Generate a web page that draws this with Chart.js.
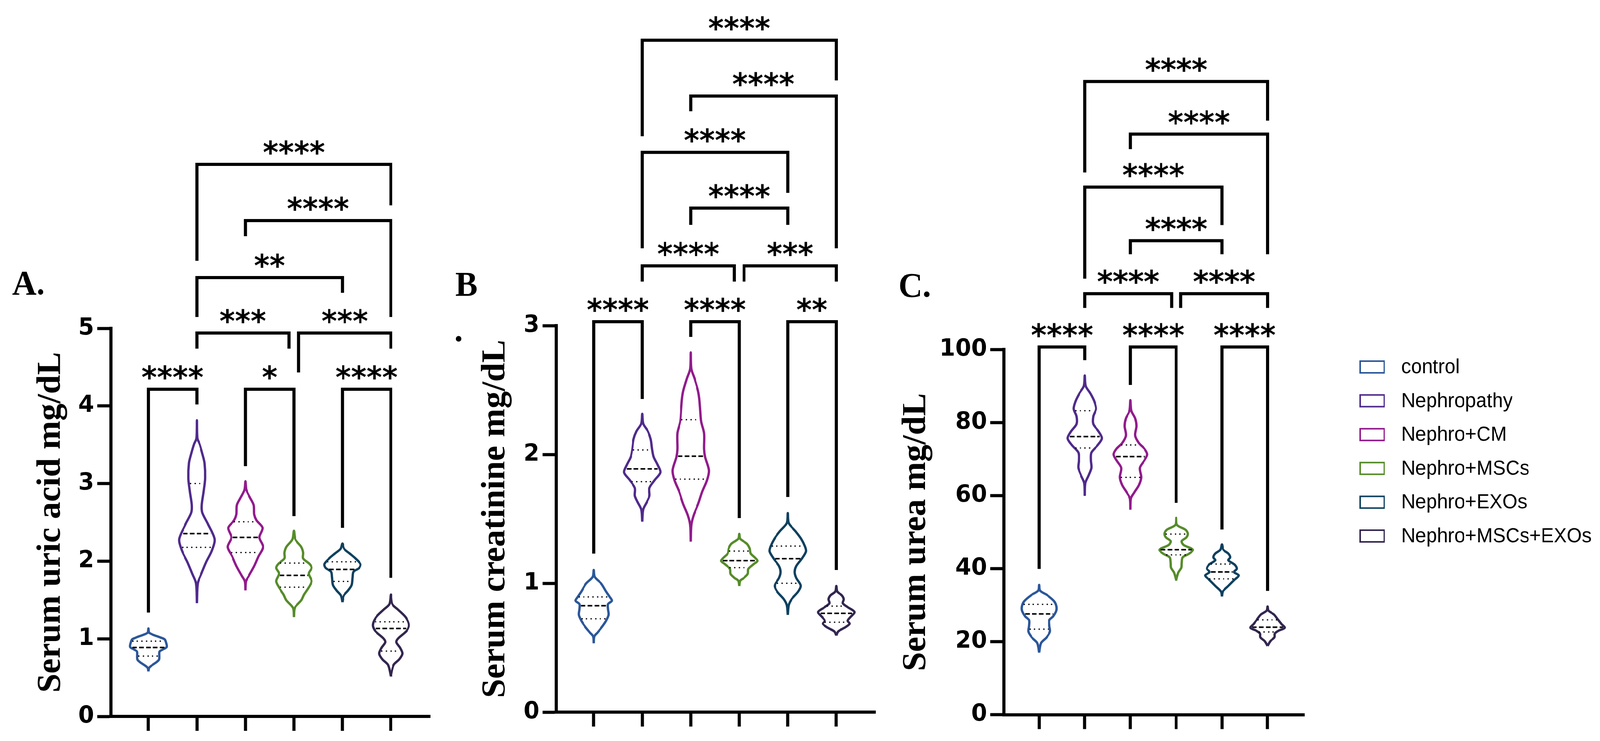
<!DOCTYPE html>
<html><head><meta charset="utf-8">
<script src="https://cdn.jsdelivr.net/npm/chart.js@4.4.0/dist/chart.umd.min.js"></script>
<style>
html,body{margin:0;padding:0;background:#fff;overflow:hidden;width:100%;height:100%;}
#stage{position:absolute;left:0;top:0;width:4196px;height:1898px;transform-origin:0 0;background:#fff;}
#stage canvas{position:absolute;top:0;}
</style></head><body>
<div id="stage">
<canvas id="cA" width="1150" height="1898" style="left:0px;width:1150px;height:1898px"></canvas>
<canvas id="cB" width="1160" height="1898" style="left:1150px;width:1160px;height:1898px"></canvas>
<canvas id="cC" width="1140" height="1898" style="left:2310px;width:1140px;height:1898px"></canvas>
<canvas id="cL" width="746" height="1898" style="left:3450px;width:746px;height:1898px"></canvas>
</div>
<script>
// fit the 4196x1898 figure into whatever viewport the page is opened in
(function () {
  const st = document.getElementById('stage');
  const sx = (window.innerWidth || 4196) / 4196, sy = (window.innerHeight || 1898) / 1898;
  st.style.transform = 'scale(' + sx + ',' + sy + ')';
})();

// ---------- categories & colours ----------
const groups = ['control', 'Nephropathy', 'Nephro+CM', 'Nephro+MSCs', 'Nephro+EXOs', 'Nephro+MSCs+EXOs'];
const groupColors = ['#2C579A', '#4F2B8C', '#921B8C', '#568C2A', '#0F415F', '#33264F'];

// ---------- Panel A: serum uric acid (violin outlines: [value, half-width]) ----------
const uricTicks = [0, 1, 2, 3, 4, 5];
const uricViolins = [
  [[0.581,0],[0.625,0.015],[0.649,0.054],[0.699,0.169],[0.735,0.223],[0.833,0.23],[0.858,0.284],[0.895,0.376],[0.956,0.361],[0.993,0.334],[1.018,0.246],[1.054,0.092],[1.079,0.015],[1.133,0]],
  [[1.459,0],[1.717,0.019],[1.840,0.096],[1.987,0.192],[2.134,0.307],[2.281,0.365],[2.478,0.23],[2.625,0.115],[2.723,0.104],[2.895,0.142],[3.066,0.173],[3.263,0.161],[3.385,0.115],[3.508,0.058],[3.582,0.01],[3.815,0]],
  [[1.624,0],[1.741,0.012],[1.815,0.077],[1.938,0.184],[2.06,0.269],[2.183,0.365],[2.306,0.288],[2.429,0.353],[2.527,0.23],[2.601,0.184],[2.723,0.173],[2.821,0.096],[2.92,0.019],[3.03,0]],
  [[1.28,0],[1.398,0.019],[1.496,0.154],[1.57,0.211],[1.643,0.288],[1.741,0.365],[1.840,0.307],[1.913,0.365],[1.962,0.326],[2.036,0.192],[2.11,0.192],[2.183,0.154],[2.281,0.031],[2.392,0]],
  [[1.472,0],[1.557,0.031],[1.619,0.115],[1.693,0.192],[1.791,0.211],[1.864,0.23],[1.913,0.346],[1.962,0.372],[2.036,0.269],[2.098,0.154],[2.159,0.038],[2.227,0]],
  [[0.515,0],[0.662,0.058],[0.735,0.173],[0.809,0.238],[0.883,0.192],[0.956,0.115],[1.006,0.154],[1.104,0.326],[1.177,0.372],[1.275,0.307],[1.373,0.154],[1.447,0.031],[1.57,0]]
];
const uricQuartiles = [[0.777,0.888,0.969],[2.178,2.355,3.0],[2.112,2.306,2.507],[1.665,1.817,1.975],[1.739,1.894,1.992],[0.841,1.133,1.219]];
// [from group, to group, bracket level, left drop end, right drop end, label]
const uricBrackets = [
  [1,5,7.113,5.87,6.584,'****'],[2,5,6.388,6.187,5.146,'****'],[1,4,5.654,5.146,5.458,'**'],
  [1,2.9,4.94,4.739,4.739,'***'],[3.1,5,4.94,4.431,4.739,'***'],
  [0,1,4.215,1.338,4.019,'****'],[2,3,4.215,3.224,2.58,'*'],[4,5,4.215,2.43,1.786,'****']
];

// ---------- Panel B: serum creatinine ----------
const creatTicks = [0, 1, 2, 3];
const creatViolins = [
  [[0.535,0],[0.588,0.012],[0.618,0.079],[0.664,0.177],[0.709,0.256],[0.755,0.307],[0.8,0.295],[0.838,0.295],[0.865,0.374],[0.891,0.335],[0.936,0.256],[0.997,0.157],[1.05,0.02],[1.103,0]],
  [[1.479,0],[1.573,0.02],[1.633,0.098],[1.679,0.15],[1.739,0.15],[1.8,0.256],[1.861,0.374],[1.921,0.315],[1.982,0.236],[2.042,0.205],[2.118,0.177],[2.179,0.118],[2.239,0.02],[2.315,0]],
  [[1.323,0],[1.452,0.012],[1.527,0.059],[1.618,0.157],[1.709,0.236],[1.8,0.335],[1.876,0.374],[1.982,0.295],[2.042,0.276],[2.164,0.276],[2.255,0.217],[2.345,0.197],[2.436,0.177],[2.497,0.15],[2.588,0.079],[2.664,0.012],[2.792,0]],
  [[0.979,0],[1.02,0.02],[1.042,0.098],[1.073,0.177],[1.111,0.189],[1.148,0.295],[1.174,0.374],[1.202,0.315],[1.232,0.236],[1.27,0.217],[1.308,0.157],[1.345,0.02],[1.383,0]],
  [[0.755,0],[0.83,0.02],[0.876,0.079],[0.936,0.217],[0.982,0.268],[1.042,0.177],[1.088,0.146],[1.133,0.177],[1.194,0.295],[1.247,0.374],[1.285,0.354],[1.345,0.276],[1.406,0.157],[1.467,0.02],[1.545,0]],
  [[0.595,0],[0.626,0.039],[0.656,0.177],[0.686,0.276],[0.709,0.236],[0.739,0.295],[0.777,0.374],[0.815,0.236],[0.845,0.138],[0.876,0.157],[0.906,0.118],[0.936,0.02],[0.979,0]]
];
const creatQuartiles = [[0.724,0.826,0.894],[1.789,1.888,2.035],[1.808,1.986,2.27],[1.121,1.176,1.25],[1.0,1.191,1.289],[0.698,0.767,0.823]];
const creatBrackets = [
  [1,5,5.215,4.47,4.903,'****'],[2,5,4.782,4.664,3.6,'****'],[1,4,4.345,3.6,4.03,'****'],
  [2,4,3.912,3.782,3.782,'****'],[1,2.9,3.464,3.342,3.342,'****'],[3.1,5,3.464,3.342,3.342,'***'],
  [0,1,3.03,1.23,2.43,'****'],[2,3,3.03,2.912,1.506,'****'],[4,5,3.03,1.67,1.103,'**']
];

// ---------- Panel C: serum urea ----------
const ureaTicks = [0, 20, 40, 60, 80, 100];
const ureaViolins = [
  [[17.0,0],[19.61,0.041],[21.18,0.163],[22.74,0.237],[24.3,0.224],[25.88,0.224],[26.91,0.306],[28.48,0.375],[29.78,0.375],[31.09,0.326],[32.66,0.184],[33.96,0.02],[35.52,0]],
  [[59.93,0],[63.43,0.012],[65.51,0.082],[67.6,0.143],[69.68,0.131],[71.77,0.143],[73.86,0.286],[75.68,0.375],[77.51,0.306],[79.6,0.184],[81.68,0.184],[83.77,0.245],[85.85,0.204],[87.95,0.122],[90.03,0.02],[92.9,0]],
  [[56.13,0],[59.26,0.012],[60.82,0.082],[62.91,0.184],[64.99,0.233],[67.6,0.204],[69.68,0.306],[71.26,0.367],[72.82,0.306],[74.38,0.184],[76.46,0.102],[79.07,0.131],[81.16,0.102],[83.24,0.02],[86.12,0]],
  [[36.72,0],[38.91,0.049],[40.22,0.114],[41.52,0.122],[43.08,0.143],[44.13,0.286],[45.18,0.367],[46.47,0.163],[47.52,0.122],[48.57,0.224],[49.6,0.253],[50.65,0.204],[51.96,0.02],[53.93,0]],
  [[32.39,0],[33.69,0.02],[35.26,0.143],[36.83,0.265],[38.13,0.367],[39.07,0.265],[39.96,0.326],[41.0,0.286],[42.3,0.143],[43.08,0.184],[44.13,0.143],[45.18,0.033],[46.63,0]],
  [[18.83,0],[20.13,0.061],[21.18,0.155],[22.22,0.163],[23.0,0.245],[23.79,0.375],[24.83,0.306],[26.13,0.224],[27.44,0.143],[28.48,0.02],[29.63,0]]
];
const ureaQuartiles = [[23.42,27.6,30.2],[73.02,76.15,83.24],[64.99,70.68,73.86],[43.77,45.18,49.45],[37.19,39.07,41.26],[22.64,23.94,25.97]];
const ureaBrackets = [
  [1,5,173.4,148.5,162.7,'****'],[2,5,159.0,154.9,126.1,'****'],[1,4,144.5,119.4,134.1,'****'],
  [2,4,129.8,126.1,126.1,'****'],[1,2.9,115.3,111.4,111.4,'****'],[3.1,5,115.3,111.4,111.4,'****'],
  [0,1,100.7,39.9,97.1,'****'],[2,3,100.7,90.3,58.0,'****'],[4,5,100.7,50.7,33.9,'****']
];

Chart.defaults.color = '#000';

function widthAt(profile, v) {
  for (let k = 0; k < profile.length - 1; k++) {
    const [v0, w0] = profile[k], [v1, w1] = profile[k + 1];
    if (v >= v0 && v <= v1) return w0 + (w1 - w0) * (v - v0) / (v1 - v0);
  }
  return 0;
}

function buildDatasets(violins, quartiles) {
  const ds = [];
  const dotted = [], dashed = [];
  violins.forEach((prof, g) => {
    const right = prof.map(([v, w]) => ({x: g + w, y: v}));
    const left = prof.slice(0, -1).reverse().map(([v, w]) => ({x: g - w, y: v}));
    ds.push({label: groups[g], data: right.concat(left), showLine: true, borderColor: groupColors[g],
      borderWidth: 6, pointRadius: 0, tension: 0.3, fill: false, borderJoinStyle: 'round', order: 2});
    const [q1, med, q3] = quartiles[g];
    [q1, q3].forEach(q => {
      const w = Math.max(widthAt(prof, q) - 0.03, 0);
      dotted.push({x: g - w, y: q}, {x: g + w, y: q}, {x: g, y: null});
    });
    const wm = Math.max(widthAt(prof, med) - 0.03, 0);
    dashed.push({x: g - wm, y: med}, {x: g + wm, y: med}, {x: g, y: null});
  });
  ds.push({label: 'quartiles', data: dotted, showLine: true, borderColor: '#000', borderWidth: 3.5,
    borderDash: [0.5, 11.5], borderCapStyle: 'round', pointRadius: 0, spanGaps: false, order: 0});
  ds.push({label: 'median', data: dashed, showLine: true, borderColor: '#000', borderWidth: 4,
    borderDash: [12, 6], pointRadius: 0, spanGaps: false, order: 0});
  return ds;
}

function annotatePlugin(brackets, texts) {
  return {
    id: 'annotate',
    afterDraw(chart) {
      const {ctx} = chart, x = chart.scales.x, y = chart.scales.y;
      ctx.save();
      ctx.strokeStyle = '#000'; ctx.fillStyle = '#000';
      ctx.lineWidth = 8; ctx.lineJoin = 'miter'; ctx.lineCap = 'butt';
      ctx.font = 'bold 78px "DejaVu Sans"';
      ctx.textAlign = 'center'; ctx.textBaseline = 'alphabetic';
      brackets.forEach(([a, b, level, dropA, dropB, label]) => {
        const xa = x.getPixelForValue(a), xb = x.getPixelForValue(b), yr = y.getPixelForValue(level);
        ctx.beginPath();
        ctx.moveTo(xa, y.getPixelForValue(dropA));
        ctx.lineTo(xa, yr); ctx.lineTo(xb, yr);
        ctx.lineTo(xb, y.getPixelForValue(dropB));
        ctx.stroke();
        ctx.fillText(label, (xa + xb) / 2, yr - 3);
      });
      ctx.font = 'bold 88px "Liberation Serif"'; ctx.textAlign = 'left';
      texts.forEach(([t, px, py]) => ctx.fillText(t, px, py));
      ctx.restore();
    }
  };
}

function makePanel(id, cfg) {
  new Chart(document.getElementById(id), {
    type: 'scatter',
    data: {datasets: buildDatasets(cfg.violins, cfg.quartiles)},
    options: {
      responsive: false, animation: false, devicePixelRatio: 1,
      layout: {padding: {left: 0, right: cfg.padR, top: cfg.top, bottom: cfg.padB}},
      plugins: {legend: {display: false}, tooltip: {enabled: false}},
      scales: {
        x: {
          type: 'linear', min: -0.77, max: 5.81,
          afterBuildTicks: s => { s.ticks = groups.map((_, i) => ({value: i})); },
          afterFit: s => { s.height = 40; },
          ticks: {callback: () => '', autoSkip: false, padding: 0},
          grid: {display: true, drawOnChartArea: false, drawTicks: true, tickLength: 37, tickWidth: 8, tickColor: '#000', color: '#000'},
          border: {display: true, width: 8, color: '#000'}
        },
        y: {
          type: 'linear', min: cfg.ticks[0], max: cfg.ticks[cfg.ticks.length - 1],
          afterBuildTicks: s => { s.ticks = cfg.ticks.map(v => ({value: v})); },
          afterFit: s => { s.width = cfg.yW; },
          ticks: {color: '#000', padding: 8, font: {family: 'DejaVu Sans', weight: 'bold', size: 60}},
          grid: {display: true, drawOnChartArea: false, drawTicks: true, tickLength: 36, tickWidth: 8, tickColor: '#000', color: '#000'},
          border: {display: true, width: 8, color: '#000'},
          title: {display: true, text: cfg.title, color: '#000', padding: cfg.titlePad,
            font: {family: 'Liberation Serif', weight: 'bold', size: 88, lineHeight: 1}}
        }
      }
    },
    plugins: [annotatePlugin(cfg.brackets, cfg.texts)]
  });
}

makePanel('cA', {violins: uricViolins, quartiles: uricQuartiles, brackets: uricBrackets, ticks: uricTicks,
  title: 'Serum uric acid mg/dL', yW: 291, padR: 22, top: 841, padB: 23, titlePad: 90, texts: [['A.', 32, 754]]});
makePanel('cB', {violins: creatViolins, quartiles: creatQuartiles, brackets: creatBrackets, ticks: creatTicks,
  title: 'Serum creatinine mg/dL', yW: 309, padR: 14, top: 834, padB: 34, titlePad: 106, texts: [['B', 44, 757], ['.', 42, 874]]});
makePanel('cC', {violins: ureaViolins, quartiles: ureaQuartiles, brackets: ureaBrackets, ticks: ureaTicks,
  title: 'Serum urea mg/dL', yW: 323, padR: 29, top: 895.3, padB: 27.5, titlePad: 49, texts: [['C.', 46, 760]]});

// legend: a chart whose group entries are drawn by a small plugin
const legendPlugin = {
  id: 'groupLegend',
  afterDraw(chart) {
    const ctx = chart.ctx;
    ctx.save();
    ctx.font = '51px "Liberation Sans"';
    ctx.textBaseline = 'middle'; ctx.textAlign = 'left';
    chart.data.datasets.forEach((d, i) => {
      const cy = 940 + i * 86.6;
      ctx.lineWidth = 4; ctx.strokeStyle = d.borderColor;
      ctx.strokeRect(117, cy - 15, 63, 30);
      ctx.fillStyle = '#000';
      ctx.fillText(d.label, 225, cy + 2);
    });
    ctx.restore();
  }
};
new Chart(document.getElementById('cL'), {
  type: 'scatter',
  data: {datasets: groups.map((g, i) => ({label: g, data: [], borderColor: groupColors[i], backgroundColor: 'rgba(0,0,0,0)', borderWidth: 4}))},
  options: {
    responsive: false, animation: false, devicePixelRatio: 1,
    scales: {x: {display: false}, y: {display: false}},
    plugins: {tooltip: {enabled: false}, legend: {display: false}}
  },
  plugins: [legendPlugin]
});
</script>
</body></html>
